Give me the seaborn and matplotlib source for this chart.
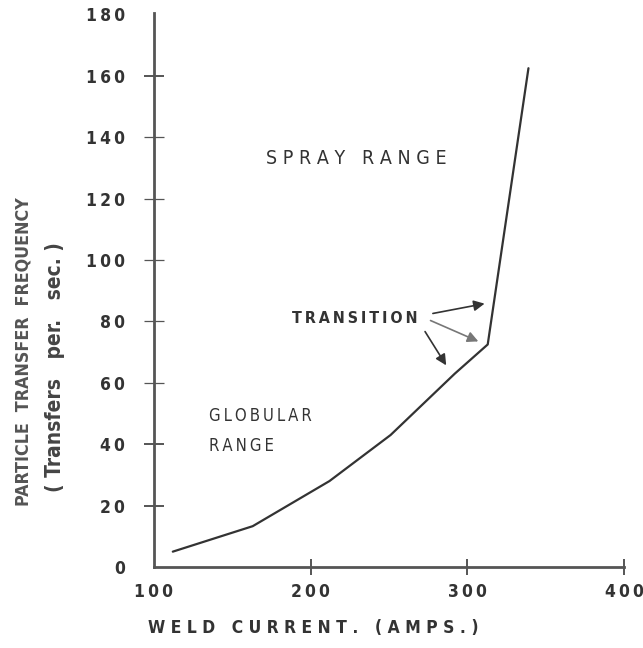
import matplotlib
matplotlib.use("Agg")
import matplotlib.pyplot as plt
import seaborn as sns

# ---- data ----
weld_current = [112, 163, 212, 251, 292, 313, 339]     # amps
transfer_freq = [5, 13.3, 28, 43, 63, 72.5, 162.5]     # transfers per sec

x_ticks = [100, 200, 300, 400]
y_ticks = [0, 20, 40, 60, 80, 100, 120, 140, 160, 180]

# arrows from the "TRANSITION" label to the bend of the curve
arrow_starts = [(278, 82.6), (276.5, 80.3), (273, 76.7)]
arrow_tips = [(311, 85.8), (307, 73.5), (286.5, 65.7)]

ink = "#333333"
axis_ink = "#555555"
th = "\u2009"  # thin space, used for the letter spacing of the lettering

sns.set_style("ticks")
plt.rcParams["font.family"] = ["DejaVu Sans"]
plt.rcParams["font.stretch"] = "condensed"

fig = plt.figure(figsize=(6.43, 6.48), dpi=100)
ax = fig.add_axes([0.2395, 0.125, 0.731, 0.855])

sns.lineplot(x=weld_current, y=transfer_freq, ax=ax, color=ink, linewidth=1.6, sort=False)

ax.set_xlim(100, 400)
ax.set_ylim(0, 180.5)
ax.set_xticks(x_ticks)
ax.set_yticks(y_ticks)
ax.set_xticklabels([th.join(str(v)) for v in x_ticks], fontsize=12.5, fontweight="bold", color=ink)
ax.set_yticklabels([th.join(str(v)) for v in y_ticks], fontsize=12.5, fontweight="bold", color=ink)
ax.tick_params(axis="y", direction="inout", length=14, width=1.4, color=axis_ink, pad=14)
ax.tick_params(axis="x", direction="inout", length=11, width=1.4, color=axis_ink, pad=6)

# the middle y ticks are faint in the scan, 0 and 180 have none
yt = ax.yaxis.get_major_ticks()
for i, t in enumerate(yt):
    if y_ticks[i] in (0, 180):
        t.tick1line.set_visible(False)
    elif 60 <= y_ticks[i] <= 140:
        t.tick1line.set_markeredgewidth(0.9)
        t.tick1line.set_color("#888888")
ax.xaxis.get_major_ticks()[0].tick1line.set_visible(False)

for side in ["top", "right"]:
    ax.spines[side].set_visible(False)
for side in ["left", "bottom"]:
    ax.spines[side].set_color(axis_ink)
    ax.spines[side].set_linewidth(2)

# axis titles
fig.text(313 / 643, 1 - 628 / 648, "W E L D   C U R R E N T .   ( A M P S . )",
         ha="center", va="center", fontsize=12.5, fontweight="bold", color=ink)
fig.text(24 / 643, 1 - 352 / 648, "PARTICLE  TRANSFER  FREQUENCY", rotation=90,
         ha="center", va="center", fontsize=12.8, fontweight="bold", color="#555555")
fig.text(55 / 643, 1 - 367 / 648, "( Transfers   per.   sec. )", rotation=90,
         ha="center", va="center", fontsize=15, fontweight="bold", color="#444444")

# region labels
ax.text(229, 133, "S P R A Y   R A N G E", ha="center", va="center", fontsize=14, color=ink)
ax.text(135, 49.2, th.join("GLOBULAR"), ha="left", va="center", fontsize=12, color=ink)
ax.text(135, 39.5, th.join("RANGE"), ha="left", va="center", fontsize=12, color=ink)
ax.text(228, 81, th.join("TRANSITION"), ha="center", va="center",
        fontsize=11.5, fontweight="bold", color=ink)

for (sx, sy), (tx, ty), col in zip(arrow_starts, arrow_tips, [ink, "#777777", ink]):
    ax.annotate("", xy=(tx, ty), xytext=(sx, sy),
                arrowprops=dict(arrowstyle="-|>", color=col, lw=1.2, mutation_scale=16,
                                shrinkA=0, shrinkB=0))

fig.savefig("out.png", dpi=100)
